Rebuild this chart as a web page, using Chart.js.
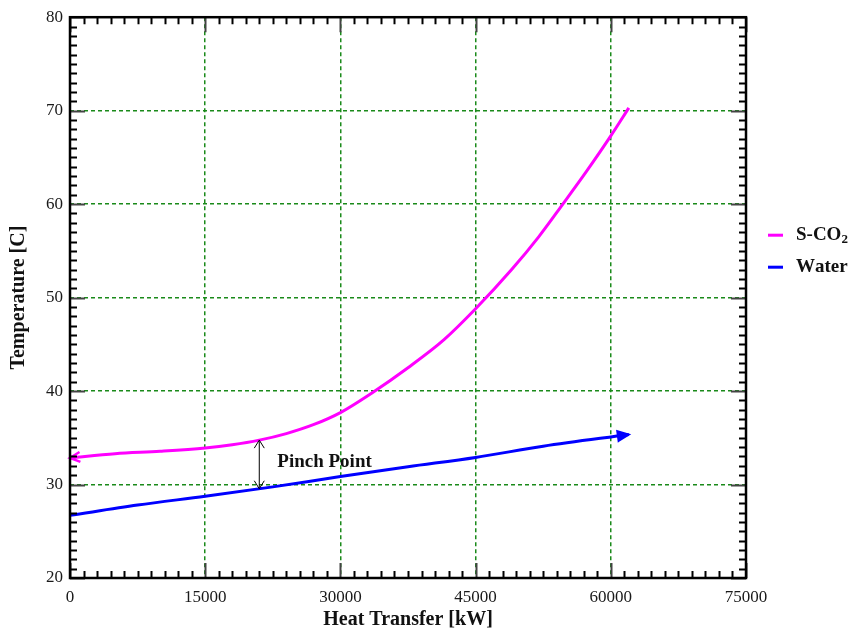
<!DOCTYPE html>
<html>
<head>
<meta charset="utf-8">
<title>S-CO2 / Water pinch point</title>
<script src="https://cdn.jsdelivr.net/npm/chart.js@4.4.1/dist/chart.umd.min.js"></script>
<style>
  html, body { margin: 0; padding: 0; background: #fff; }
  canvas { display: block; }
</style>
</head>
<body>
<canvas id="chart" width="850" height="632"></canvas>
<script>
// values
const sco2Q = [0, 5000, 10000, 15000, 18000, 21000, 24000, 27000, 30000, 33500, 37500, 41500, 45000, 49000, 52000, 54600, 57300, 60000, 62000];
const sco2T = [32.85, 33.3, 33.55, 33.9, 34.25, 34.75, 35.45, 36.4, 37.7, 39.8, 42.5, 45.5, 48.8, 53.0, 56.5, 59.9, 63.5, 67.3, 70.3];
const waterQ = [0, 7500, 15000, 22500, 30000, 37500, 45000, 52500, 62000];
const waterT = [26.7, 27.8, 28.75, 29.75, 30.85, 31.9, 32.9, 34.1, 35.35];
const pinchQ = [21000, 21000];
const pinchT = [29.55, 34.75];
const pinchText = 'Pinch Point';
const pinchTextAt = [23000, 32.45];
const xTicks = [0, 15000, 30000, 45000, 60000, 75000];
const yTicks = [20, 30, 40, 50, 60, 70, 80];
const xMinorStep = 1500;
const yMinorStep = 1;

const FONT = '"Liberation Serif", "Times New Roman", serif';
const GREEN = '#1a8a1a';

function toPoints(xs, ys) {
  return xs.map((x, i) => ({ x: x, y: ys[i] }));
}

/* arrow head at 'tip', pointing away from 'from' */
function arrowHead(ctx, from, tip, len, half, filled) {
  const ang = Math.atan2(tip.y - from.y, tip.x - from.x);
  const bx = tip.x - len * Math.cos(ang), by = tip.y - len * Math.sin(ang);
  const nx = -Math.sin(ang) * half, ny = Math.cos(ang) * half;
  ctx.beginPath();
  ctx.moveTo(bx + nx, by + ny);
  ctx.lineTo(tip.x, tip.y);
  ctx.lineTo(bx - nx, by - ny);
  if (filled) { ctx.closePath(); ctx.fill(); }
  ctx.stroke();
}

const arrowsPlugin = {
  id: 'arrows',
  afterDatasetsDraw(chart) {
    const ctx = chart.ctx;
    chart.data.datasets.forEach((ds, i) => {
      if (!ds.arrow) return;
      const pts = chart.getDatasetMeta(i).data;
      const n = pts.length;
      ctx.save();
      ctx.strokeStyle = ds.borderColor;
      ctx.fillStyle = ds.borderColor;
      ctx.lineWidth = ds.arrow.width;
      ctx.lineJoin = 'miter';
      if (ds.arrow.start) arrowHead(ctx, pts[1], pts[0], ds.arrow.len, ds.arrow.half, ds.arrow.filled);
      if (ds.arrow.end) arrowHead(ctx, pts[n - 2], pts[n - 1], ds.arrow.len, ds.arrow.half, ds.arrow.filled);
      ctx.restore();
    });
  }
};

// frame, inward ticks on all 4 sides, legend and the pinch label
const decorPlugin = {
  id: 'decor',
  afterDraw(chart) {
    const { ctx, chartArea: a, scales: { x, y } } = chart;
    ctx.save();

    // ticks
    const xPerMajor = Math.round((xTicks[1] - xTicks[0]) / xMinorStep);
    const nx = Math.round((xTicks[xTicks.length - 1] - xTicks[0]) / xMinorStep);
    for (let i = 0; i <= nx; i++) {
      const px = Math.round(x.getPixelForValue(xTicks[0] + i * xMinorStep)) + 0.5;
      const major = i % xPerMajor === 0;
      const len = major ? 15 : 7;
      ctx.strokeStyle = major ? '#444' : '#000';
      ctx.lineWidth = 2;
      ctx.beginPath();
      ctx.moveTo(px, a.bottom); ctx.lineTo(px, a.bottom - len);
      ctx.moveTo(px, a.top); ctx.lineTo(px, a.top + len);
      ctx.stroke();
    }
    const yPerMajor = Math.round((yTicks[1] - yTicks[0]) / yMinorStep);
    const ny = Math.round((yTicks[yTicks.length - 1] - yTicks[0]) / yMinorStep);
    for (let i = 0; i <= ny; i++) {
      const py = Math.round(y.getPixelForValue(yTicks[0] + i * yMinorStep)) + 0.5;
      const major = i % yPerMajor === 0;
      const len = major ? 15 : 7;
      ctx.strokeStyle = major ? '#444' : '#000';
      ctx.lineWidth = 2;
      ctx.beginPath();
      ctx.moveTo(a.left, py); ctx.lineTo(a.left + len, py);
      ctx.moveTo(a.right, py); ctx.lineTo(a.right - len, py);
      ctx.stroke();
    }

    // frame
    ctx.strokeStyle = '#000';
    ctx.lineWidth = 2.5;
    ctx.strokeRect(a.left, a.top, a.right - a.left, a.bottom - a.top);

    // pinch point label
    ctx.fillStyle = '#111';
    ctx.font = 'bold 19px ' + FONT;
    ctx.textAlign = 'left';
    ctx.textBaseline = 'middle';
    ctx.fillText(pinchText, x.getPixelForValue(pinchTextAt[0]), y.getPixelForValue(pinchTextAt[1]));

    // legend
    let ly = a.top + 218;
    chart.data.datasets.forEach(ds => {
      if (!ds.inLegend) return;
      ctx.strokeStyle = ds.borderColor;
      ctx.lineWidth = 3;
      ctx.beginPath();
      ctx.moveTo(a.right + 22, ly); ctx.lineTo(a.right + 37, ly);
      ctx.stroke();
      let tx = a.right + 50;
      for (const ch of ds.label) {
        const sub = '₀₁₂₃₄₅₆₇₈₉'.indexOf(ch);
        if (sub >= 0) {
          ctx.font = 'bold 13px ' + FONT;
          ctx.fillText(String(sub), tx, ly + 4);
          tx += ctx.measureText(String(sub)).width;
        } else {
          ctx.font = 'bold 19px ' + FONT;
          ctx.fillText(ch, tx, ly);
          tx += ctx.measureText(ch).width;
        }
      }
      ly += 32;
    });
    ctx.restore();
  }
};

const gridColor = (lo, hi) => c => (c.tick && (c.tick.value === lo || c.tick.value === hi)) ? 'rgba(0,0,0,0)' : GREEN;

new Chart(document.getElementById('chart'), {
  type: 'scatter',
  data: {
    datasets: [
      {
        label: 'S-CO₂',
        data: toPoints(sco2Q, sco2T),
        showLine: true,
        borderColor: '#ff00ff',
        borderWidth: 3,
        pointRadius: 0,
        cubicInterpolationMode: 'monotone',
        inLegend: true,
        arrow: { start: true, len: 10, half: 5, width: 2.5, filled: false }
      },
      {
        label: 'Water',
        data: toPoints(waterQ, waterT),
        showLine: true,
        borderColor: '#0000ff',
        borderWidth: 3,
        pointRadius: 0,
        cubicInterpolationMode: 'monotone',
        inLegend: true,
        arrow: { end: true, len: 11, half: 5, width: 2, filled: true }
      },
      {
        label: 'pinch',
        data: toPoints(pinchQ, pinchT),
        showLine: true,
        borderColor: '#000',
        borderWidth: 1,
        pointRadius: 0,
        arrow: { start: true, end: true, len: 8, half: 5, width: 1, filled: false }
      }
    ]
  },
  options: {
    responsive: false,
    animation: false,
    layout: { padding: { left: 0, right: 104, top: 15, bottom: 0 } },
    plugins: { legend: { display: false }, tooltip: { enabled: false } },
    scales: {
      x: {
        type: 'linear',
        min: xTicks[0],
        max: xTicks[xTicks.length - 1],
        afterBuildTicks: s => { s.ticks = xTicks.map(v => ({ value: v })); },
        afterFit: s => { s.height = 54; },
        ticks: { color: '#1a1a1a', padding: 9, maxRotation: 0, callback: v => String(v), font: { family: FONT, size: 17 } },
        grid: { color: gridColor(xTicks[0], xTicks[xTicks.length - 1]), lineWidth: 1.5, drawTicks: false },
        border: { display: false, dash: [4, 3] },
        title: { display: true, text: 'Heat Transfer [kW]', color: '#111', padding: { top: 0, bottom: 0 }, font: { family: FONT, size: 20, weight: 'bold' } }
      },
      y: {
        type: 'linear',
        min: yTicks[0],
        max: yTicks[yTicks.length - 1],
        afterBuildTicks: s => { s.ticks = yTicks.map(v => ({ value: v })); },
        afterFit: s => { s.width = 70; },
        ticks: { color: '#1a1a1a', padding: 7, callback: v => String(v), font: { family: FONT, size: 17 } },
        grid: { color: gridColor(yTicks[0], yTicks[yTicks.length - 1]), lineWidth: 1.5, drawTicks: false },
        border: { display: false, dash: [4, 3] },
        title: { display: true, text: 'Temperature [C]', color: '#111', padding: { top: 7, bottom: 0 }, font: { family: FONT, size: 20, weight: 'bold' } }
      }
    }
  },
  plugins: [arrowsPlugin, decorPlugin]
});
</script>
</body>
</html>
